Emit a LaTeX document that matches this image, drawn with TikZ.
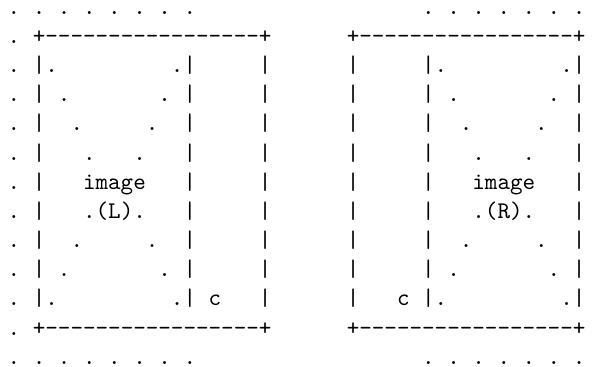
\documentclass[tikz,border=0pt]{standalone}
\usepackage{tikz}
\tikzset{glyph/.style={font=\ttfamily, inner sep=0pt, outer sep=0pt, anchor=base}}

\begin{document}
\begin{tikzpicture}[x=5.25pt, y=-12.2pt]
	%%%%% START %%%%%
	\useasboundingbox (-1.115, 0.517) rectangle (46.9, 13.09);
	
	% dotted rows, top and bottom
	\foreach \c in {0,2,...,14} {
		\node[glyph] (topL\c) at (\c, 1) {.};
		\node[glyph] (botL\c) at (\c, 13) {.};
	}
	\foreach \c in {33,35,...,45} {
		\node[glyph] (topR\c) at (\c, 1) {.};
		\node[glyph] (botR\c) at (\c, 13) {.};
	}
	\foreach \r in {2,...,12}
		\node[glyph] (side\r) at (0, \r) {.};
	
	% frame corners
	\foreach \c in {2,20,27,45} {
		\node[glyph] (cornT\c) at (\c, 2) {+};
		\node[glyph] (cornB\c) at (\c, 12) {+};
	}
	% frame edges
	\foreach \c in {3,...,19,28,29,...,44} {
		\node[glyph] (dashT\c) at (\c, 2) {-};
		\node[glyph] (dashB\c) at (\c, 12) {-};
	}
	\foreach \c in {2,14,20,27,33,45}
		\foreach \r in {3,...,11}
			\node[glyph] (bar\c-\r) at (\c, \r) {|};
	
	% the two crossed image panels
	\foreach \i in {1,...,4} {
		\node[glyph] (xLa\i) at (2+\i, 2+\i) {.};
		\node[glyph] (xLb\i) at (14-\i, 2+\i) {.};
		\node[glyph] (xLc\i) at (2+\i, 12-\i) {.};
		\node[glyph] (xLd\i) at (14-\i, 12-\i) {.};
		\node[glyph] (xRa\i) at (33+\i, 2+\i) {.};
		\node[glyph] (xRb\i) at (45-\i, 2+\i) {.};
		\node[glyph] (xRc\i) at (33+\i, 12-\i) {.};
		\node[glyph] (xRd\i) at (45-\i, 12-\i) {.};
	}
	
	\node[glyph] (imgL) at (8, 7) {image};
	\node[glyph] (tagL) at (8, 8) {(L)};
	\node[glyph] (imgR) at (39, 7) {image};
	\node[glyph] (tagR) at (39, 8) {(R)};
	
	\node[glyph] (cL) at (16, 11) {c};
	\node[glyph] (cR) at (31, 11) {c};
	
	%%%%% END %%%%%
\end{tikzpicture}
\end{document}
